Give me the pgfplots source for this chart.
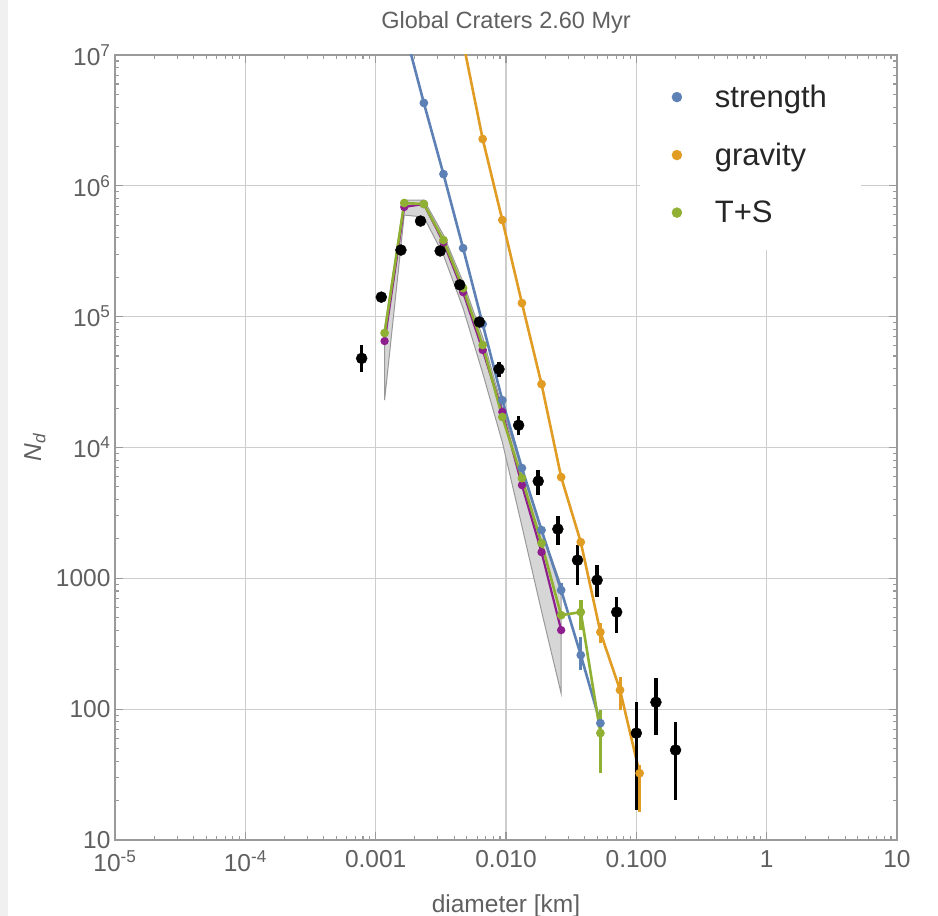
\documentclass[border=0pt]{standalone}
\usepackage{pgfplots}
\pgfplotsset{compat=1.18}
\usepackage{fontspec}
\setmainfont{Liberation Sans}
\definecolor{cS}{HTML}{5E81B5}
\definecolor{cG}{HTML}{E19C24}
\definecolor{cT}{HTML}{8FB032}
\definecolor{cP}{HTML}{8E1E8E}
\definecolor{txt}{HTML}{606060}
\definecolor{gridc}{HTML}{CDCDCD}
\definecolor{axc}{HTML}{9A9A9A}
\definecolor{bandc}{HTML}{D6D6D6}

\pgfplotstableread{
x y ep em
7.81e-4 48000 12700 10300
1.105e-3 141000 0 0
1.563e-3 323000 0 0
2.210e-3 538000 0 0
3.126e-3 318000 0 0
4.42e-3 175000 0 0
6.25e-3 91000 0 0
8.84e-3 39700 5300 5200
1.250e-2 14800 2600 2400
1.768e-2 5530 1190 1200
2.50e-2 2380 610 585
3.536e-2 1377 418 490
5.0e-2 968 294 250
7.07e-2 552 166 171
0.1 65.6 47.4 48.7
0.1414 113 59.6 49.7
0.2 48.7 30.9 28.6
}\obs

\pgfplotstableread{
x y ep em
1.657e-3 1.6e7 0 0
2.343e-3 4.30e6 0 0
3.313e-3 1.23e6 0 0
4.686e-3 3.34e5 0 0
6.625e-3 8.78e4 0 0
9.37e-3 2.30e4 0 0
1.325e-2 6960 0 0
1.874e-2 2337 0 0
2.65e-2 813 106 72
3.748e-2 259 96 60
5.3e-2 78.2 20 15
}\strength

\pgfplotstableread{
x y ep em
4.686e-3 1.26e7 0 0
6.625e-3 2.28e6 0 0
9.37e-3 5.48e5 0 0
1.325e-2 1.27e5 0 0
1.874e-2 3.05e4 0 0
2.65e-2 5940 0 0
3.748e-2 1891 0 0
5.3e-2 388 66 68
7.5e-2 140 36 42
0.106 32.4 5 16
}\gravity

\pgfplotstableread{
x y ep em
1.171e-3 7.50e4 0 0
1.657e-3 7.39e5 0 0
2.343e-3 7.26e5 0 0
3.313e-3 3.85e5 0 0
4.686e-3 1.65e5 0 0
6.625e-3 6.07e4 0 0
9.37e-3 1.71e4 0 0
1.325e-2 5830 0 0
1.874e-2 1858 0 0
2.65e-2 523 0 0
3.748e-2 552 129 150
5.3e-2 65.6 32.4 33.2
}\ts

\pgfplotstableread{
x y
1.171e-3 6.51e4
1.657e-3 6.89e5
2.343e-3 7.26e5
3.313e-3 3.70e5
4.686e-3 1.54e5
6.625e-3 5.56e4
9.37e-3 1.87e4
1.325e-2 5160
1.874e-2 1585
2.65e-2 402
}\purp

\pgfplotstableread{
x y
1.171e-3 8.18e4
1.657e-3 7.79e5
2.343e-3 7.79e5
3.313e-3 4.21e5
4.686e-3 1.84e5
6.625e-3 6.98e4
9.37e-3 2.00e4
1.325e-2 6720
1.874e-2 2337
2.65e-2 887
2.65e-2 132
1.874e-2 561
1.325e-2 2506
9.37e-3 1.10e4
6.625e-3 3.71e4
4.686e-3 1.16e5
3.313e-3 2.96e5
2.343e-3 5.77e5
1.657e-3 5.98e5
1.171e-3 2.30e4
}\band

\begin{document}
\begin{tikzpicture}[x=1pt,y=1pt]
\fill[white] (-115,-76) rectangle (823,840);
\fill[black!6] (-115,-76) rectangle (-107,840);
\begin{axis}[
  at={(0,0)}, anchor=south west,
  scale only axis, width=782pt, height=785pt,
  xmode=log, ymode=log,
  xmin=1e-5, xmax=10, ymin=10, ymax=1e7,
  xtick={1e-5,1e-4,1e-3,1e-2,1e-1,1,10},
  xticklabels={10\textsuperscript{-5},10\textsuperscript{-4},0.001,0.010,0.100,1,10},
  ytick={10,100,1000,1e4,1e5,1e6,1e7},
  yticklabels={10,100,1000,10\textsuperscript{4},10\textsuperscript{5},10\textsuperscript{6},10\textsuperscript{7}},
  grid=major,
  major grid style={gridc, line width=1.2pt},
  axis line style={axc, line width=1.2pt},
  tick style={axc, line width=1.1pt},
  major tick length=8pt, minor tick length=4.5pt,
  tick label style={font=\fontsize{24.5}{24.5}\selectfont, text=txt},
  xticklabel style={yshift=-7pt},
  yticklabel style={xshift=-1pt},
  xlabel={diameter [km]},
  ylabel={\textit{N}\textsubscript{\textit{d}}},
  every axis x label/.style={at={(axis description cs:0.5,0)}, anchor=center, yshift=-66pt, font=\fontsize{24.5}{24.5}\selectfont, text=txt},
  every axis y label/.style={at={(axis description cs:0,0.5)}, anchor=center, xshift=-80pt, rotate=90, font=\fontsize{24.5}{24.5}\selectfont, text=txt},
  title={Global Craters 2.60 Myr},
  every axis title/.style={at={(axis description cs:0.5,1)}, anchor=center, yshift=33pt, font=\fontsize{23.5}{23.5}\selectfont, text=txt},
  legend style={at={(axis description cs:0.671,0.995)}, anchor=north west, draw=none, fill=white,
    font=\fontsize{31}{31}\selectfont, text=black!85, row sep=30pt, inner xsep=32pt, inner ysep=24pt},
  legend cell align=left,
  /tikz/every odd column/.append style={column sep=31pt},
]
\addlegendimage{only marks, mark=*, mark size=5pt, color=cS}
\addlegendentry{strength}
\addlegendimage{only marks, mark=*, mark size=5pt, color=cG}
\addlegendentry{gravity}
\addlegendimage{only marks, mark=*, mark size=5pt, color=cT}
\addlegendentry{T+S}

\addplot[forget plot, fill=bandc, draw=gray!80, line width=1pt] table[x=x,y=y]{\band} -- cycle;

\addplot[forget plot, cP, line width=2.2pt, mark=*, mark size=3pt] table[x=x,y=y]{\purp};

\addplot[forget plot, cS, line width=2.6pt, mark=*, mark size=3pt,
  error bars/.cd, y dir=both, y explicit, error bar style={line width=3pt}, error mark=none]
  table[x=x,y=y,y error plus=ep,y error minus=em]{\strength};

\addplot[forget plot, cG, line width=2.6pt, mark=*, mark size=3pt,
  error bars/.cd, y dir=both, y explicit, error bar style={line width=3pt}, error mark=none]
  table[x=x,y=y,y error plus=ep,y error minus=em]{\gravity};

\addplot[forget plot, cT, line width=2.6pt, mark=*, mark size=3pt,
  error bars/.cd, y dir=both, y explicit, error bar style={line width=3.5pt}, error mark=none]
  table[x=x,y=y,y error plus=ep,y error minus=em]{\ts};

\addplot[forget plot, black, only marks, mark=*, mark size=5.5pt,
  error bars/.cd, y dir=both, y explicit, error bar style={line width=3.5pt}, error mark=none]
  table[x=x,y=y,y error plus=ep,y error minus=em]{\obs};
\end{axis}
\pgfresetboundingbox
\path[use as bounding box] (-115,-76) rectangle (823,840);
\end{tikzpicture}
\end{document}
